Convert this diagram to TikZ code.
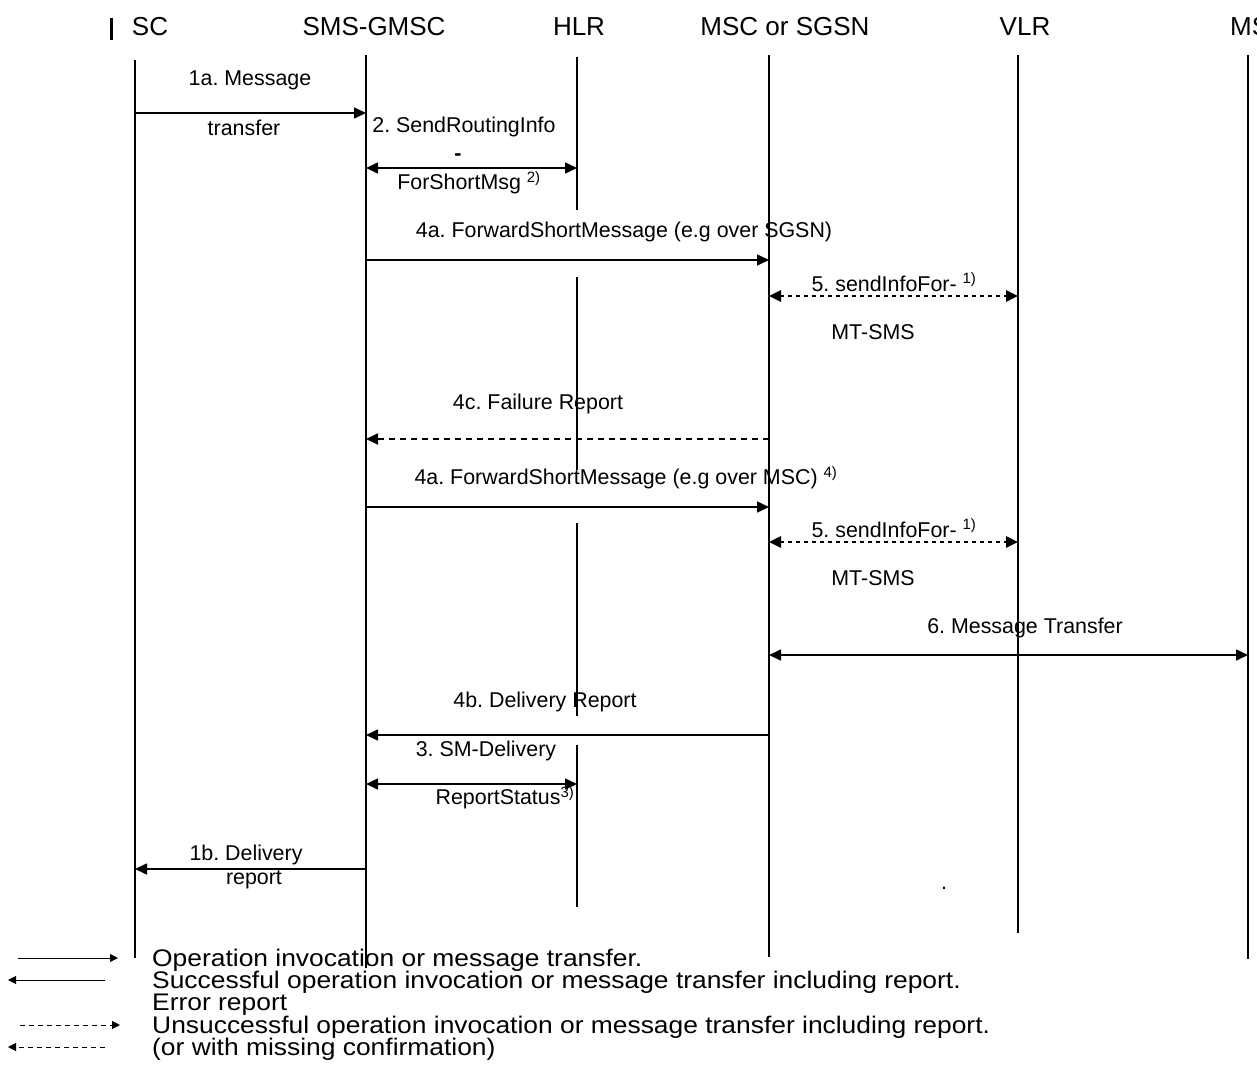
\documentclass[tikz,border=0pt]{standalone}
\usepackage{fontspec}
\setmainfont{Liberation Sans}
\usetikzlibrary{arrows.meta}
\frenchspacing
\newcommand{\legtext}[1]{\scalebox{1.1}[1]{#1}}
\begin{document}
\begin{tikzpicture}[x=1pt,y=-1pt,
  lifeline/.style={line width=1.8pt},
  msg/.style={line width=1.6pt,-{Triangle[length=12pt,width=11pt]}},
  bimsg/.style={line width=1.6pt,{Triangle[length=12pt,width=11pt]}-{Triangle[length=12pt,width=11pt]}},
  dotmsg/.style={line width=2.6pt,dash pattern=on 4pt off 4pt,{Triangle[length=12pt,width=11pt]}-{Triangle[length=12pt,width=11pt]}},
  dashmsg/.style={line width=2pt,dash pattern=on 6pt off 5pt,-{Triangle[length=12pt,width=11pt]}},
  legsolid/.style={line width=0.9pt,-{Triangle[length=8pt,width=8pt]}},
  legdash/.style={line width=0.9pt,dash pattern=on 5pt off 4pt,-{Triangle[length=8pt,width=8pt]}},
  hdr/.style={font=\fontsize{26}{30}\selectfont,inner sep=0pt},
  lbl/.style={font=\fontsize{21.4}{25}\selectfont,inner sep=0pt},
  leg/.style={font=\fontsize{24}{26}\selectfont,inner sep=0pt,anchor=base west},
]
\useasboundingbox (0,0) rectangle (1257,1090);
\clip (0,0) rectangle (1257,1090);

% header
\draw[line width=3pt] (111,18) coordinate (barT) -- (111,40) coordinate (barB);
\node[hdr] (hSC) at (150,27) {SC};
\node[hdr] (hGM) at (374,27) {SMS-GMSC};
\node[hdr] (hHLR) at (579,27) {HLR};
\node[hdr] (hMSC) at (785,27) {MSC or SGSN};
\node[hdr] (hVLR) at (1025,27) {VLR};
\node[hdr,anchor=west] (hMS) at (1230,27) {MS};

% lifelines
\coordinate (scT) at (135,60);   \coordinate (scB) at (135,958);
\coordinate (gmT) at (366,55);   \coordinate (gmB) at (366,968);
\coordinate (msT) at (769,55);   \coordinate (msB) at (769,957);
\coordinate (vlT) at (1018,55);  \coordinate (vlB) at (1018,933);
\coordinate (mT) at (1248,55);   \coordinate (mB) at (1248,959);
\coordinate (h1) at (577,57);  \coordinate (h2) at (577,210);
\coordinate (h3) at (577,277); \coordinate (h4) at (577,470);
\coordinate (h5) at (577,523); \coordinate (h6) at (577,716);
\coordinate (h7) at (577,745); \coordinate (h8) at (577,907);
\draw[lifeline] (scT) -- (scB);
\draw[lifeline] (gmT) -- (gmB);
\draw[lifeline] (msT) -- (msB);
\draw[lifeline] (vlT) -- (vlB);
\draw[lifeline] (mT) -- (mB);
\draw[lifeline] (h1) -- (h2);
\draw[lifeline] (h3) -- (h4);
\draw[lifeline] (h5) -- (h6);
\draw[lifeline] (h7) -- (h8);

% message endpoints
\coordinate (a1s) at (135,113); \coordinate (a1e) at (366,113);
\coordinate (a2s) at (366,168); \coordinate (a2e) at (577,168);
\coordinate (a4s) at (366,260); \coordinate (a4e) at (769,260);
\coordinate (a5s) at (769,296); \coordinate (a5e) at (1018,296);
\coordinate (a4cs) at (769,439); \coordinate (a4ce) at (366,439);
\coordinate (b4s) at (366,507); \coordinate (b4e) at (769,507);
\coordinate (b5s) at (769,542); \coordinate (b5e) at (1018,542);
\coordinate (a6s) at (769,655); \coordinate (a6e) at (1248,655);
\coordinate (a4bs) at (769,735); \coordinate (a4be) at (366,735);
\coordinate (a3s) at (366,784); \coordinate (a3e) at (577,784);
\coordinate (a1bs) at (366,869); \coordinate (a1be) at (135,869);

\draw[msg] (a1s) -- (a1e);
\draw[bimsg] (a2s) -- (a2e);
\draw[msg] (a4s) -- (a4e);
\draw[dotmsg] (a5s) -- (a5e);
\draw[dashmsg] (a4cs) -- (a4ce);
\draw[msg] (b4s) -- (b4e);
\draw[dotmsg] (b5s) -- (b5e);
\draw[bimsg] (a6s) -- (a6e);
\draw[msg] (a4bs) -- (a4be);
\draw[bimsg] (a3s) -- (a3e);
\draw[msg] (a1bs) -- (a1be);

% labels
\node[lbl] (l1a) at (250,80) {1a. Message};
\node[lbl] (l1a2) at (244,128) {transfer};
\node[lbl] (l2) at (464,127) {2. SendRoutingInfo};
\node[lbl] (l2d) at (458,157) {\textbf{-}};
\node[lbl] (l2b) at (469,183) {ForShortMsg \textsuperscript{2)}};
\node[lbl] (l4a) at (624,232) {4a. ForwardShortMessage (e.g over SGSN)};
\node[lbl] (l5a) at (894,282) {5. sendInfoFor- \textsuperscript{1)}};
\node[lbl] (l5a2) at (873,332) {MT-SMS};
\node[lbl] (l4c) at (538,404) {4c. Failure Report};
\node[lbl] (l4a2) at (626,478) {4a. ForwardShortMessage (e.g over MSC) \textsuperscript{4)}};
\node[lbl] (l5b) at (894,528) {5. sendInfoFor- \textsuperscript{1)}};
\node[lbl] (l5b2) at (873,578) {MT-SMS};
\node[lbl] (l6) at (1025,628) {6. Message Transfer};
\node[lbl] (l4b) at (545,702) {4b. Delivery Report};
\node[lbl] (l3) at (486,751) {3. SM-Delivery};
\node[lbl] (l3b) at (505,798) {ReportStatus\textsuperscript{3)}};
\node[lbl] (l1b) at (246,855) {1b. Delivery};
\node[lbl] (l1b2) at (254,880) {report};
\node[lbl] (dot) at (944,888) {.};

% legend
\coordinate (g1s) at (18,958);  \coordinate (g1e) at (118,958);
\coordinate (g2s) at (105,980); \coordinate (g2e) at (8,980);
\coordinate (g4s) at (20,1025); \coordinate (g4e) at (120,1025);
\coordinate (g5s) at (105,1047);\coordinate (g5e) at (8,1047);
\draw[legsolid] (g1s) -- (g1e);
\draw[legsolid] (g2s) -- (g2e);
\draw[legdash] (g4s) -- (g4e);
\draw[legdash] (g5s) -- (g5e);
\node[leg] (t1) at (152,966) {\legtext{Operation invocation or message transfer.}};
\node[leg] (t2) at (152,988) {\legtext{Successful operation invocation or message transfer including report.}};
\node[leg] (t3) at (152,1010) {\legtext{Error report}};
\node[leg] (t4) at (152,1033) {\legtext{Unsuccessful operation invocation or message transfer including report.}};
\node[leg] (t5) at (152,1055) {\legtext{(or with missing confirmation)}};
\end{tikzpicture}
\end{document}
